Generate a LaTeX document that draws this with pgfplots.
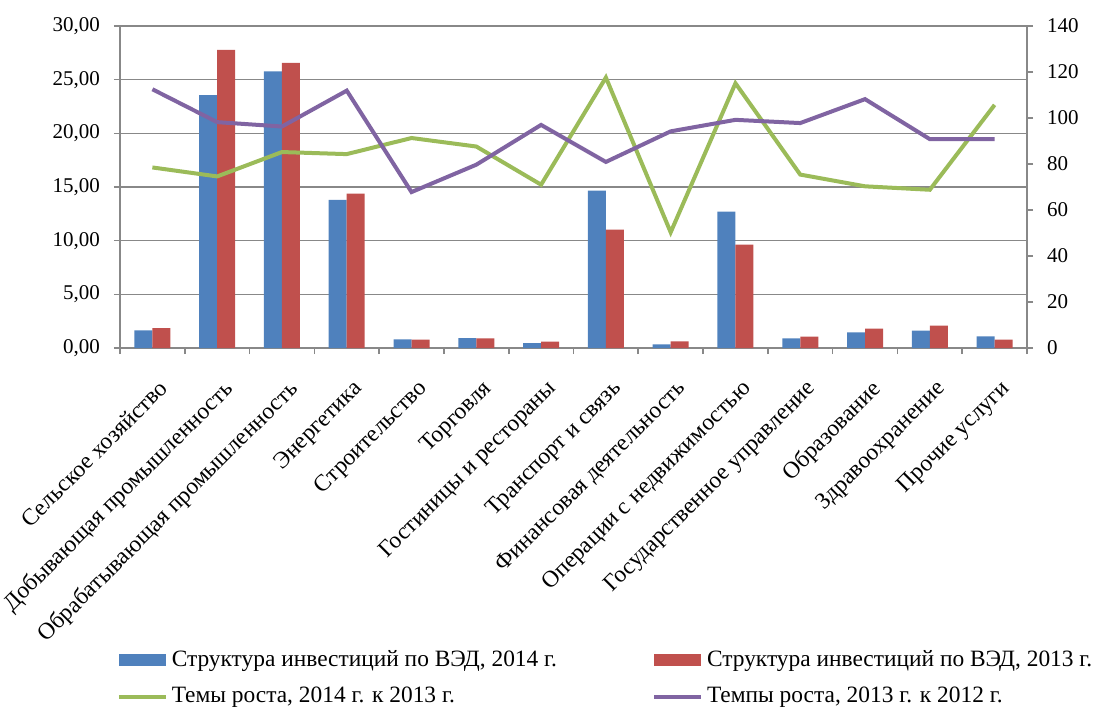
\documentclass[border=0pt]{standalone}
\usepackage{pgfplots}
\pgfplotsset{compat=1.18}
\usepackage{fontspec}
\setmainfont{Liberation Serif}

\definecolor{cBlue}{HTML}{4F81BD}
\definecolor{cRed}{HTML}{C0504D}
\definecolor{cGreen}{HTML}{9BBB59}
\definecolor{cPurple}{HTML}{8064A2}
\definecolor{cAxis}{HTML}{888888}

\pgfplotsset{
  base/.style={
    width=453.5pt, height=161pt, scale only axis,
    xmin=-0.5, xmax=13.5,
    tick align=outside,
    major tick length=3pt, minor tick length=3pt,
    axis line style={cAxis, line width=0.8pt},
    tick style={cAxis, line width=0.8pt},
    every tick label/.append style={font=\fontsize{10.5}{12}\selectfont, text=black},
    /pgf/number format/assume math mode=true,
  },
  lineleg/.style={legend image code/.code={\draw[##1] (0pt,0pt) -- (23.5pt,0pt);}},
  barleg/.style={legend image code/.code={\fill[##1] (0pt,-3pt) rectangle (23.5pt,3pt);}},
}

\begin{document}
\begin{tikzpicture}
% bars: structure of investments, %
\begin{axis}[base, name=ax,
  ybar=0pt, bar width=9pt,
  ymin=0, ymax=30, ytick={0,5,...,30},
  ytick pos=left, xtick pos=bottom,
  ymajorgrids, grid style={cAxis, line width=0.8pt},
  yticklabel style={xshift=-3.5pt, /pgf/number format/.cd, fixed, fixed zerofill, precision=2, use comma},
  xtick={0,...,13},
  minor xtick={-0.5,0.5,...,13.5},
  major x tick style={draw=none},
  xticklabels={Сельское хозяйство, Добывающая промышленность, Обрабатывающая промышленность,
    Энергетика, Строительство, Торговля, Гостиницы и рестораны, Транспорт и связь,
    Финансовая деятельность, Операции с недвижимостью, Государственное управление,
    Образование, Здравоохранение, Прочие услуги},
  xticklabel style={xshift=2.5pt, yshift=-12pt, rotate=45, anchor=north east, inner sep=0pt,
    font=\fontsize{11.7}{13}\selectfont},
]
\addplot[fill=cBlue, draw=none] coordinates {
  (0,1.64) (1,23.55) (2,25.78) (3,13.79) (4,0.81) (5,0.93) (6,0.46)
  (7,14.66) (8,0.34) (9,12.70) (10,0.90) (11,1.46) (12,1.61) (13,1.08)};
\addplot[fill=cRed, draw=none] coordinates {
  (0,1.86) (1,27.77) (2,26.56) (3,14.38) (4,0.77) (5,0.90) (6,0.59)
  (7,11.03) (8,0.62) (9,9.64) (10,1.05) (11,1.80) (12,2.08) (13,0.77)};
\end{axis}

% lines: growth rates, %
\begin{axis}[base,
  ymin=0, ymax=140, ytick={0,20,...,140},
  axis y line*=right, axis x line=none,
  yticklabel style={xshift=3.5pt},
  legend columns=2,
  legend style={draw=none, fill=none, at={(-0.004,-0.925)}, anchor=north west,
    font=\fontsize{11.7}{13}\selectfont, inner sep=0pt,
    row sep=5pt,
    /tikz/every even column/.append style={column sep=45.5pt}},
  legend cell align=left,
]
\addlegendimage{barleg, fill=cBlue, draw=none}
\addlegendentry{Структура инвестиций по ВЭД, 2014 г.}
\addlegendimage{barleg, fill=cRed, draw=none}
\addlegendentry{Структура инвестиций по ВЭД, 2013 г.}
\addplot[cGreen, line width=2pt, mark=none, lineleg] coordinates {
  (0,78.5) (1,74.6) (2,85.2) (3,84.3) (4,91.3) (5,87.6) (6,71.0)
  (7,117.6) (8,50.3) (9,115.1) (10,75.4) (11,70.3) (12,68.8) (13,105.7)};
\addlegendentry{Темы роста, 2014 г. к 2013 г.}
\addplot[cPurple, line width=2pt, mark=none, lineleg] coordinates {
  (0,112.5) (1,98.2) (2,96.3) (3,111.9) (4,67.8) (5,79.7) (6,97.0)
  (7,80.9) (8,94.2) (9,99.2) (10,97.8) (11,108.2) (12,90.8) (13,90.8)};
\addlegendentry{Темпы роста, 2013 г. к 2012 г.}
\end{axis}

\path ([shift={(-60pt,-180.5pt)}]ax.south west) rectangle ([shift={(46.5pt,13pt)}]ax.north east);
\end{tikzpicture}
\end{document}
